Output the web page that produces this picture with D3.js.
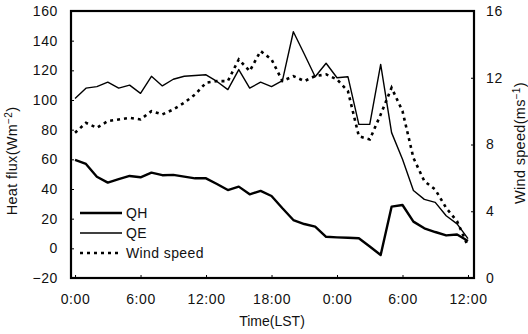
<!DOCTYPE html>
<html>
<head>
<meta charset="utf-8">
<script src="https://cdn.jsdelivr.net/npm/d3@7"></script>
<style>
  body { margin: 0; background: #fff; }
  svg { display: block; font-family: "Liberation Sans", Arial, sans-serif; }
  .tick text { font-size: 14px; letter-spacing: 0.6px; fill: #111; }
</style>
</head>
<body>
<svg id="chart" width="528" height="334"></svg>
<script>
// hours from 0:00 on day one to 12:00 on day two
const hours = [0, 1, 2, 3, 4, 5, 6, 7, 8, 9, 10, 11, 12, 13, 14, 15, 16, 17, 18,
  19, 20, 21, 22, 23, 24, 25, 26, 27, 28, 29, 30, 31, 32, 33, 34, 35, 36];

const qh = [59.6, 56.9, 48.3, 44.3, 46.6, 48.8, 47.9, 51, 49.3, 49.5, 48.3, 47.2, 47.2,
  43.4, 39.3, 41.6, 36.4, 38.7, 35.3, 27, 19.1, 16.4, 14.6, 7.8, 7.4, 7.1, 6.8, 1.2,
  -4.5, 28.1, 29.2, 18, 13.5, 11, 8.7, 9.3, 5];

const qe = [101, 108, 109, 112, 108, 110, 104.5, 116, 109.5, 114, 116, 116.5, 117,
  112.5, 107, 120.5, 108, 112, 109, 113, 146, 131, 115.7, 124.8, 115, 115.7, 83.6,
  83.6, 124, 78, 60, 39, 33, 31, 22, 16.5, 6.5];

const wind = [8.7, 9.3, 9.0, 9.4, 9.5, 9.6, 9.5, 10.0, 9.8, 10.1, 10.5, 11.0, 11.7,
  11.8, 11.8, 13.1, 12.4, 13.6, 13.1, 11.8, 12.1, 11.8, 12.1, 12.2, 11.9, 11.2, 8.5,
  8.3, 9.8, 11.4, 10.0, 7.2, 5.8, 5.3, 4.2, 3.4, 1.9];

const xTicks = [0, 6, 12, 18, 24, 30, 36];
const xTickLabels = ["0:00", "6:00", "12:00", "18:00", "0:00", "6:00", "12:00"];
const heatTicks = [-20, 0, 20, 40, 60, 80, 100, 120, 140, 160];
const windTicks = [0, 4, 8, 12, 16];

const svg = d3.select("#chart");
const pl = 71, pt = 11, pr = 474, pb = 278;

const x = d3.scaleLinear().domain([-0.37, 36.55]).range([pl, pr]);
const y = d3.scaleLinear().domain([-20, 160]).range([pb, pt]);
const y2 = d3.scaleLinear().domain([0, 16]).range([pb, pt]);

// axes (ticks point inward, frame drawn separately)
svg.append("g")
  .attr("transform", `translate(${pl},0)`)
  .call(d3.axisLeft(y).tickValues(heatTicks).tickSizeInner(-3).tickSizeOuter(0).tickPadding(13))
  .call(g => g.select(".domain").remove());

svg.append("g")
  .attr("transform", `translate(${pr},0)`)
  .call(d3.axisRight(y2).tickValues(windTicks).tickSizeInner(-3).tickSizeOuter(0).tickPadding(12))
  .call(g => g.select(".domain").remove());

svg.append("g")
  .attr("transform", `translate(0,${pb})`)
  .call(d3.axisBottom(x).tickValues(xTicks).tickFormat((d, i) => xTickLabels[i])
    .tickSizeInner(-3).tickSizeOuter(0).tickPadding(16))
  .call(g => g.select(".domain").remove());

// frame
svg.append("rect")
  .attr("x", pl).attr("y", pt)
  .attr("width", pr - pl).attr("height", pb - pt)
  .attr("fill", "none").attr("stroke", "#000").attr("stroke-width", 2.2);

// series
const lineHeat = d3.line()
  .x((d, i) => x(hours[i]))
  .y((d) => y(d));

const lineWind = d3.line()
  .x((d, i) => x(hours[i]))
  .y((d) => y2(d));

svg.append("path").attr("d", lineWind(wind))
  .attr("fill", "none").attr("stroke", "#000").attr("stroke-width", 2.6)
  .attr("stroke-dasharray", "3,4");

svg.append("path").attr("d", lineHeat(qe))
  .attr("fill", "none").attr("stroke", "#000").attr("stroke-width", 1.4)
  .attr("stroke-linejoin", "round");

svg.append("path").attr("d", lineHeat(qh))
  .attr("fill", "none").attr("stroke", "#000").attr("stroke-width", 2.4)
  .attr("stroke-linejoin", "round");

// legend
const legend = [
  { name: "QH", width: 2.4, dash: null },
  { name: "QE", width: 1.4, dash: null },
  { name: "Wind speed", width: 2.6, dash: "3,4" },
];
const lg = svg.append("g").attr("transform", "translate(80,213)");
legend.forEach((d, i) => {
  const row = lg.append("g").attr("transform", `translate(0,${i * 20})`);
  row.append("line").attr("x1", 0).attr("x2", 42).attr("y1", 0).attr("y2", 0)
    .attr("stroke", "#000").attr("stroke-width", d.width)
    .attr("stroke-dasharray", d.dash);
  row.append("text").attr("x", 46).attr("y", 5)
    .attr("font-size", 14).attr("letter-spacing", 0.4).attr("fill", "#111")
    .text(d.name);
});

// axis titles
const yTitle = svg.append("text")
  .attr("transform", "translate(17,161) rotate(-90)")
  .attr("text-anchor", "middle").attr("font-size", 14.5)
  .attr("letter-spacing", 0.3).attr("fill", "#111");
yTitle.append("tspan").text("Heat flux(Wm");
yTitle.append("tspan").attr("dy", -5).attr("font-size", 10).text("−2");
yTitle.append("tspan").attr("dy", 5).text(")");

const y2Title = svg.append("text")
  .attr("transform", "translate(525,143) rotate(-90)")
  .attr("text-anchor", "middle").attr("font-size", 14.5)
  .attr("letter-spacing", 0.3).attr("fill", "#111");
y2Title.append("tspan").text("Wind speed(ms");
y2Title.append("tspan").attr("dy", -5).attr("font-size", 10).text("−1");
y2Title.append("tspan").attr("dy", 5).text(")");

svg.append("text")
  .attr("x", 272).attr("y", 326)
  .attr("text-anchor", "middle").attr("font-size", 14)
  .attr("fill", "#111")
  .text("Time(LST)");
</script>
</body>
</html>
